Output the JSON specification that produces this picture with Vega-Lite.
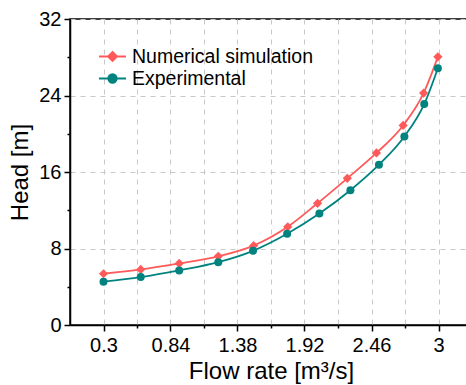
{
  "$schema": "https://vega.github.io/schema/vega-lite/v6.json",
  "width": 402,
  "height": 306,
  "autosize": {"type": "none"},
  "padding": {"left": 70, "top": 19, "right": 0, "bottom": 60},
  "background": "white",
  "config": {
    "font": "Liberation Sans",
    "view": {"stroke": "black", "strokeWidth": 1.5},
    "axis": {
      "domainColor": "black",
      "domainWidth": 1.5,
      "tickColor": "black",
      "tickWidth": 1.5,
      "labelColor": "black",
      "titleColor": "black",
      "labelFont": "Liberation Sans",
      "titleFont": "Liberation Sans",
      "labelFontSize": 20,
      "titleFontSize": 24,
      "titleFontWeight": "normal",
      "gridColor": "#c8c8c8",
      "gridDash": [5, 5],
      "gridWidth": 1
    }
  },
  "data": {
    "values": [
      {"series": "Numerical simulation", "flow": 0.3, "head": 5.36},
      {"series": "Numerical simulation", "flow": 0.6, "head": 5.81},
      {"series": "Numerical simulation", "flow": 0.91, "head": 6.44},
      {"series": "Numerical simulation", "flow": 1.225, "head": 7.18},
      {"series": "Numerical simulation", "flow": 1.51, "head": 8.3},
      {"series": "Numerical simulation", "flow": 1.785, "head": 10.27},
      {"series": "Numerical simulation", "flow": 2.025, "head": 12.73},
      {"series": "Numerical simulation", "flow": 2.265, "head": 15.34},
      {"series": "Numerical simulation", "flow": 2.5, "head": 17.99},
      {"series": "Numerical simulation", "flow": 2.715, "head": 20.87},
      {"series": "Numerical simulation", "flow": 2.88, "head": 24.25},
      {"series": "Numerical simulation", "flow": 2.995, "head": 28.04},
      {"series": "Experimental", "flow": 0.3, "head": 4.53},
      {"series": "Experimental", "flow": 0.6, "head": 5.01},
      {"series": "Experimental", "flow": 0.91, "head": 5.71},
      {"series": "Experimental", "flow": 1.225, "head": 6.57},
      {"series": "Experimental", "flow": 1.505, "head": 7.76},
      {"series": "Experimental", "flow": 1.78, "head": 9.54},
      {"series": "Experimental", "flow": 2.04, "head": 11.65},
      {"series": "Experimental", "flow": 2.29, "head": 14.09},
      {"series": "Experimental", "flow": 2.52, "head": 16.76},
      {"series": "Experimental", "flow": 2.725, "head": 19.72},
      {"series": "Experimental", "flow": 2.885, "head": 23.1},
      {"series": "Experimental", "flow": 2.995, "head": 26.86}
    ]
  },
  "encoding": {
    "x": {
      "field": "flow",
      "type": "quantitative",
      "scale": {"domain": [0.03, 3.27], "nice": false, "zero": false},
      "axis": {
        "title": "Flow rate [m³/s]",
        "values": [0.3, 0.57, 0.84, 1.11, 1.38, 1.65, 1.92, 2.19, 2.46, 2.73, 3.0, 3.27],
        "labelExpr": "abs((datum.value - 0.3) / 0.54 - round((datum.value - 0.3) / 0.54)) < 0.01 ? format(datum.value, '~g') : ''",
        "tickSize": {"condition": {"test": "abs((datum.value - 0.3) / 0.54 - round((datum.value - 0.3) / 0.54)) < 0.01", "value": 6}, "value": 3},
        "labelFontSize": 20,
        "labelPadding": 4,
        "titlePadding": 4,
        "grid": true
      }
    },
    "y": {
      "field": "head",
      "type": "quantitative",
      "scale": {"domain": [0, 32], "nice": false},
      "axis": {
        "title": "Head [m]",
        "values": [0, 4, 8, 12, 16, 20, 24, 28, 32],
        "labelExpr": "datum.value % 8 == 0 ? datum.label : ''",
        "tickSize": {"condition": {"test": "datum.value % 8 == 0", "value": 6}, "value": 3},
        "gridOpacity": {"condition": {"test": "datum.value % 8 == 0", "value": 1}, "value": 0},
        "labelFontSize": 20,
        "labelPadding": 3,
        "titlePadding": 6,
        "grid": true
      }
    },
    "color": {
      "field": "series",
      "type": "nominal",
      "scale": {"domain": ["Numerical simulation", "Experimental"], "range": ["#FF5A5A", "#00837F"]},
      "legend": {
        "orient": "none",
        "legendX": 31,
        "legendY": 26,
        "title": null,
        "labelFont": "Liberation Sans",
        "labelFontSize": 19.5,
        "labelColor": "black",
        "labelLimit": 400,
        "labelOffset": 8,
        "symbolSize": 430,
        "symbolStrokeWidth": 2,
        "rowPadding": 1,
        "encode": {
          "symbols": {
            "update": {
              "shape": {"signal": "datum.value === 'Numerical simulation' ? 'M-1.3,0L1.3,0M0,-0.43L0.43,0L0,0.43L-0.43,0Z' : 'M-1.3,0L1.3,0M0.4,0A0.4,0.4 0 1,1 -0.4,0A0.4,0.4 0 1,1 0.4,0Z'"},
              "stroke": {"scale": "color", "field": "value"},
              "fill": {"scale": "color", "field": "value"},
              "strokeOpacity": {"value": 1},
              "strokeWidth": {"value": 2}
            }
          }
        }
      }
    }
  },
  "layer": [
    {
      "mark": {"type": "line", "interpolate": "monotone", "strokeWidth": 1.8}
    },
    {
      "transform": [{"filter": "datum.series === 'Numerical simulation'"}],
      "mark": {"type": "point", "filled": true, "opacity": 1, "shape": "diamond", "size": 85}
    },
    {
      "transform": [{"filter": "datum.series === 'Experimental'"}],
      "mark": {"type": "point", "filled": true, "opacity": 1, "shape": "circle", "size": 64}
    }
  ]
}
